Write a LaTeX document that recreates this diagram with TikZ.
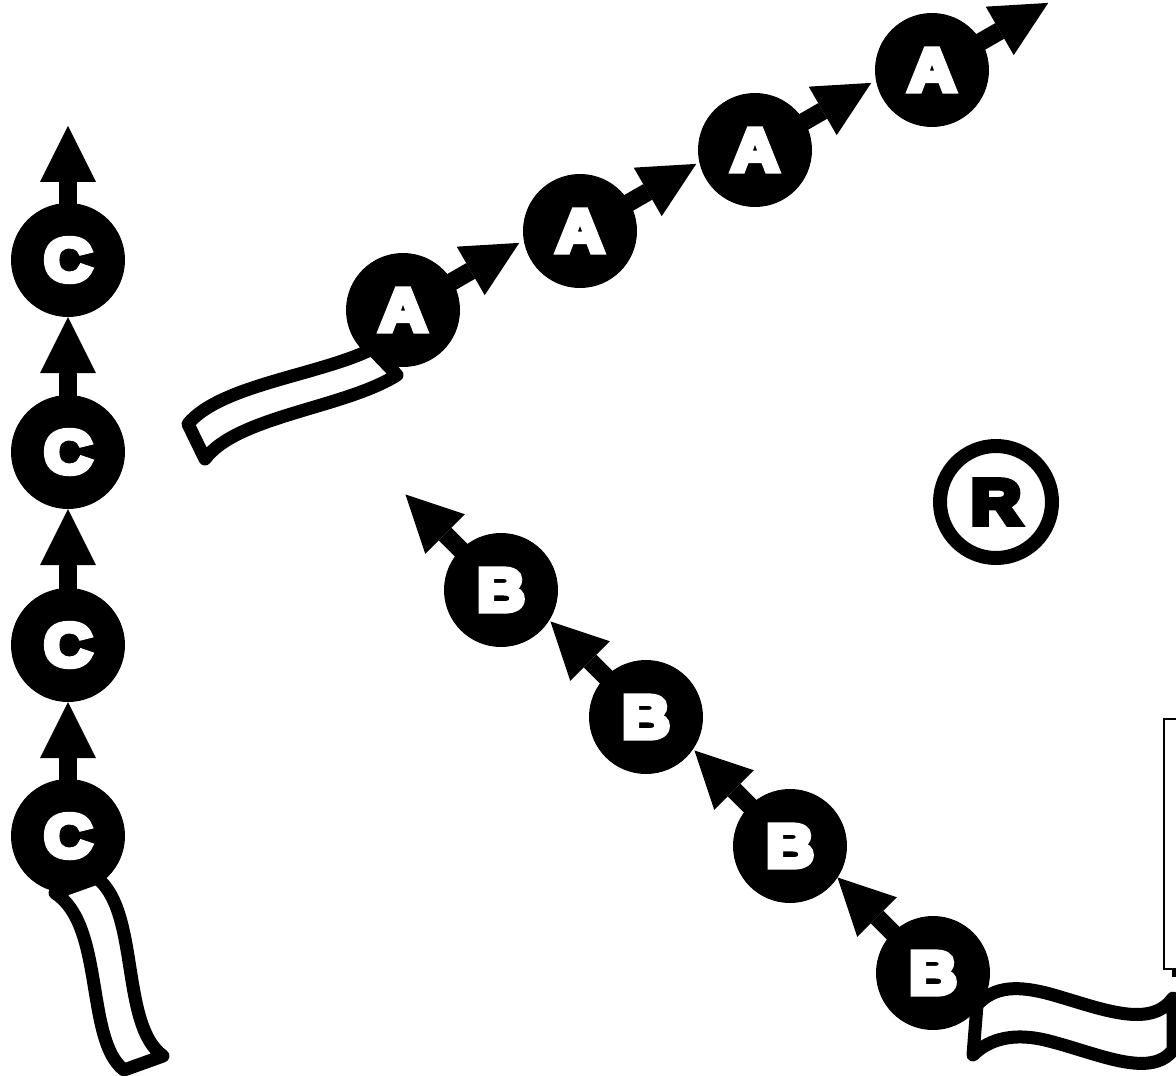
\documentclass[tikz,border=0pt]{standalone}
\usepackage{fontspec}
\newfontfamily\heavy{Liberation Sans}[BoldFeatures={FakeBold=10,FakeStretch=1.1}]
\usetikzlibrary{arrows.meta}
\begin{document}
\begin{tikzpicture}[x=1pt,y=-1pt,
  ball/.style={circle,fill=black,minimum size=114pt,inner sep=0pt,text=white,
    font=\heavy\bfseries\fontsize{60}{60}\selectfont},
  conn/.style={line width=18pt,shorten <=-4pt,
    -{Triangle[length=56pt,width=56pt,line width=0pt]}},
  ribbon/.style={fill=white,draw=black,line width=13pt,line join=round,line cap=round},
  regmark/.style={circle,draw=black,line width=14pt,minimum size=112pt,inner sep=0pt,
    font=\heavy\bfseries\fontsize{63}{63}\selectfont},
  frame/.style={draw=black,line width=2.3pt}
]
\useasboundingbox (0,0) rectangle (1176,1076);
\fill[white] (0,0) rectangle (1176,1076);

% C column
\node[ball] (C1) at (68,260) {C};
\node[ball] (C2) at (68,452) {C};
\node[ball] (C3) at (68,645) {C};
\node[ball] (C4) at (68,836) {C};
% A chain
\node[ball] (A1) at (403,310) {A};
\node[ball] (A2) at (580,231) {A};
\node[ball] (A3) at (755,150) {A};
\node[ball] (A4) at (932,70) {A};
% B chain
\node[ball] (B1) at (501,590) {B};
\node[ball] (B2) at (646,717) {B};
\node[ball] (B3) at (790,846) {B};
\node[ball] (B4) at (933,973) {B};

% arrows
\draw[conn] (C4.north) -- (C3.south);
\draw[conn] (C3.north) -- (C2.south);
\draw[conn] (C2.north) -- (C1.south);
\draw[conn] (C1.north) -- ++(0,-77);
\foreach \n in {A1,A2,A3,A4}{
  \draw[conn] (\n.30) -- ++(-30:77);
}
\foreach \n in {B1,B2,B3,B4}{
  \draw[conn] (\n.135) -- ++(-135:78);
}

% ribbons
\draw[ribbon] (188,424) .. controls (220,385) and (320,375) .. (372,349)
  -- (397,375) .. controls (345,408) and (237,416) .. (205,459) -- cycle;
\draw[ribbon] (55,893) .. controls (105,925) and (85,1040) .. (124,1070)
  -- (163,1056) .. controls (120,1025) and (140,912) .. (97,878) -- cycle;
\draw[ribbon] (977,1005) .. controls (995,985) and (1020,986) .. (1050,994)
  .. controls (1100,1008) and (1150,1030) .. (1173,998)
  -- (1173,1050) .. controls (1150,1080) and (1095,1052) .. (1045,1040)
  .. controls (1015,1033) and (990,1038) .. (973,1055) -- cycle;

% registered mark
\node[regmark] (R) at (996,502) {R};

% partial frame at right edge
\draw[frame] (1164,719) rectangle (1195,969);
\fill[black] (1172,970) rectangle (1177,977);
\end{tikzpicture}
\end{document}
